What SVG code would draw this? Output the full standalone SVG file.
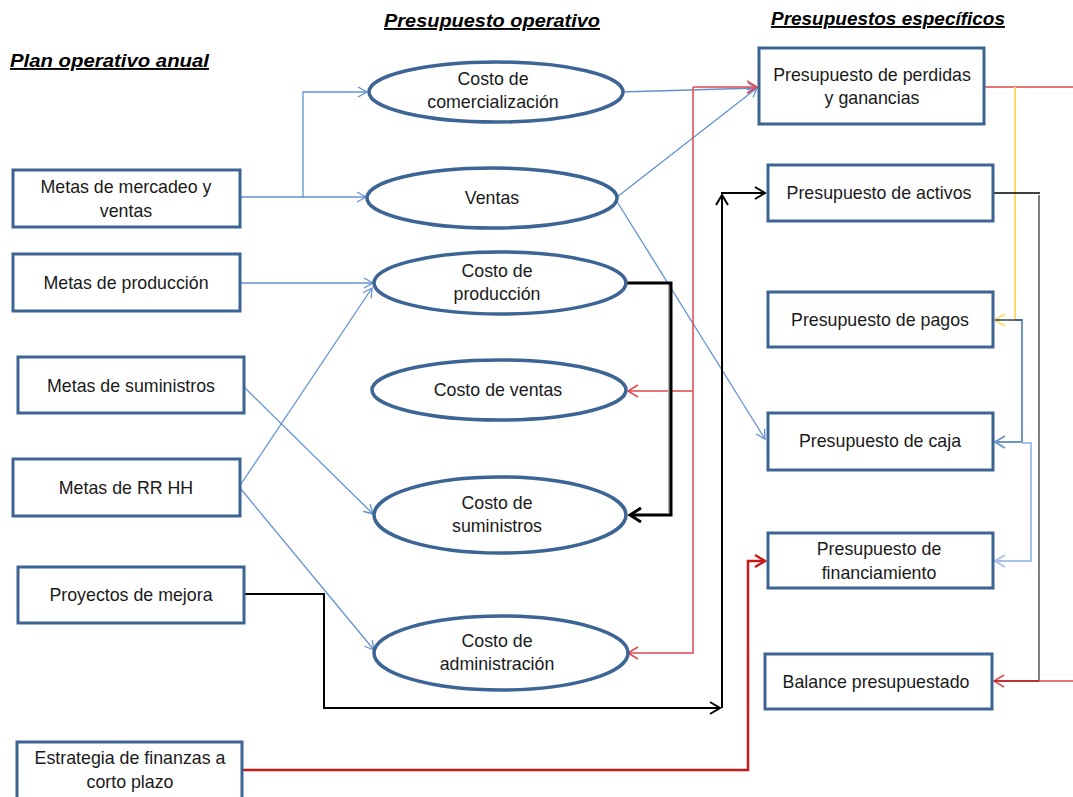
<svg xmlns="http://www.w3.org/2000/svg" width="1073" height="797" viewBox="0 0 1073 797">
  <style>
    .box { fill: #ffffff; stroke: #3c6494; stroke-width: 3; }
    .ell { fill: #ffffff; stroke: #3c6494; stroke-width: 3.5; }
    .t { font-family: "Liberation Sans", Arial, sans-serif; font-size: 17.8px; fill: #1a1a1a; text-anchor: middle; }
    .h { font-family: "Liberation Sans", Arial, sans-serif; font-size: 19px; font-weight: bold; font-style: italic; fill: #000; text-decoration: underline; }
    .c { fill: none; stroke-linejoin: miter; }
    .blue { stroke: #6392d2; stroke-width: 1.3; }
    .red { stroke: #e2474c; stroke-width: 1.5; }
    .dred { stroke: #c81818; stroke-width: 2.5; }
    .blk { stroke: #000; stroke-width: 2; }
    .blk3 { stroke: #000; stroke-width: 3; }
    .yel { stroke: #ffd966; stroke-width: 2; }
    .gray { stroke: #808080; stroke-width: 2; }
    .mblue { stroke: #7096c6; stroke-width: 2; }
    .lblue { stroke: #a4c2e8; stroke-width: 2; }
  </style>
  <defs>
    <marker id="aBlue" markerUnits="userSpaceOnUse" markerWidth="20" markerHeight="20" refX="0" refY="0" orient="auto" overflow="visible">
      <path d="M-9,-5 L0,0 L-9,5" fill="none" stroke="#6392d2" stroke-width="1.3"/>
    </marker>
    <marker id="aRed" markerUnits="userSpaceOnUse" markerWidth="20" markerHeight="20" refX="0" refY="0" orient="auto" overflow="visible">
      <path d="M-10,-6 L0,0 L-10,6" fill="none" stroke="#e2474c" stroke-width="1.5"/>
    </marker>
    <marker id="aDRed" markerUnits="userSpaceOnUse" markerWidth="20" markerHeight="20" refX="0" refY="0" orient="auto" overflow="visible">
      <path d="M-10,-6 L0,0 L-10,6" fill="none" stroke="#c81818" stroke-width="2.5"/>
    </marker>
    <marker id="aBlk" markerUnits="userSpaceOnUse" markerWidth="20" markerHeight="20" refX="0" refY="0" orient="auto" overflow="visible">
      <path d="M-10,-6 L0,0 L-10,6" fill="none" stroke="#000" stroke-width="2"/>
    </marker>
    <marker id="aBlk3" markerUnits="userSpaceOnUse" markerWidth="20" markerHeight="20" refX="0" refY="0" orient="auto" overflow="visible">
      <path d="M-11,-7 L0,0 L-11,7" fill="none" stroke="#000" stroke-width="3"/>
    </marker>
    <marker id="aYel" markerUnits="userSpaceOnUse" markerWidth="20" markerHeight="20" refX="0" refY="0" orient="auto" overflow="visible">
      <path d="M-10,-6 L0,0 L-10,6" fill="none" stroke="#ffd966" stroke-width="2"/>
    </marker>
    <marker id="aMBlue" markerUnits="userSpaceOnUse" markerWidth="20" markerHeight="20" refX="0" refY="0" orient="auto" overflow="visible">
      <path d="M-10,-6 L0,0 L-10,6" fill="none" stroke="#7096c6" stroke-width="2"/>
    </marker>
    <marker id="aLBlue" markerUnits="userSpaceOnUse" markerWidth="20" markerHeight="20" refX="0" refY="0" orient="auto" overflow="visible">
      <path d="M-10,-6 L0,0 L-10,6" fill="none" stroke="#a4c2e8" stroke-width="2"/>
    </marker>
  </defs>

  <rect width="1073" height="797" fill="#ffffff"/>

  <!-- section headings -->
  <g id="headings">
    <text class="h" x="10" y="67" textLength="199" lengthAdjust="spacingAndGlyphs">Plan operativo anual</text>
    <text class="h" x="384" y="27" textLength="216" lengthAdjust="spacingAndGlyphs">Presupuesto operativo</text>
    <text class="h" x="771" y="25" textLength="234" lengthAdjust="spacingAndGlyphs">Presupuestos específicos</text>
  </g>

  <!-- connectors -->
  <g id="connectors">
    <!-- annual plan goals to operating costs -->
    <path class="c blue" d="M240,197 H303 V92 H367" marker-end="url(#aBlue)"/>
    <path class="c blue" d="M303,197 H366" marker-end="url(#aBlue)"/>
    <path class="c blue" d="M240,283 H373" marker-end="url(#aBlue)"/>
    <path class="c blue" d="M244,387 L373,514" marker-end="url(#aBlue)"/>
    <path class="c blue" d="M239,487 L372,288" marker-end="url(#aBlue)"/>
    <path class="c blue" d="M240,488 L374,650" marker-end="url(#aBlue)"/>
    <!-- operating costs to specific budgets -->
    <path class="c blue" d="M621,92 L757,88" marker-end="url(#aBlue)"/>
    <path class="c blue" d="M617,197 L757,88" marker-end="url(#aBlue)"/>
    <path class="c blue" d="M616,200 L765,439" marker-end="url(#aBlue)"/>
    <!-- profit and loss feedback -->
    <path class="c red" d="M693,87 H757" marker-end="url(#aRed)"/>
    <path class="c red" d="M693,87 V653 H628" marker-end="url(#aRed)"/>
    <path class="c red" d="M693,391 H628" marker-end="url(#aRed)"/>
    <!-- production cost to supplies cost -->
    <path d="M669,286 V513" stroke="#b0b0b0" stroke-width="2" fill="none"/>
    <path class="c blk3" d="M626,283 H671 V515 H630" marker-end="url(#aBlk3)"/>
    <!-- improvement projects to assets budget -->
    <path class="c blk" d="M244,594 H324 V708 H720" marker-end="url(#aBlk)"/>
    <path class="c blk" d="M722,708 V195" marker-end="url(#aBlk)"/>
    <path class="c blk" d="M721,193 H765" marker-end="url(#aBlk)"/>
    <!-- short-term finance strategy to financing budget -->
    <path class="c dred" d="M242,770 H748 V561 H765" marker-end="url(#aDRed)"/>
    <!-- right-hand links between specific budgets -->
    <path class="c red" d="M985,87 H1073"/>
    <path class="c yel" d="M1015,87 V320 H995" marker-end="url(#aYel)"/>
    <path class="c mblue" d="M1015,320 H1022 V442 H995" marker-end="url(#aMBlue)"/>
    <path d="M995,320 H1022" stroke="#2f4f7a" stroke-width="1.5" fill="none"/>
    <path class="c lblue" d="M1022,443 H1031 V561 H995" marker-end="url(#aLBlue)"/>
    <path class="c gray" d="M1039,195 V681"/>
    <path d="M993,193 H1040" stroke="#000" stroke-width="1.5" fill="none"/>
    <path class="c red" d="M1073,681 H994" marker-end="url(#aRed)"/>
    <path d="M1039,681 H994" stroke="#b02020" stroke-width="1.5" fill="none"/>
  </g>

  <!-- annual plan goals -->
  <g id="metas-mercadeo">
    <rect class="box" x="13" y="170" width="227" height="57"/>
    <text class="t" x="126" y="193">Metas de mercadeo y</text>
    <text class="t" x="126" y="217">ventas</text>
  </g>
  <g id="metas-produccion">
    <rect class="box" x="13" y="254" width="227" height="57"/>
    <text class="t" x="126" y="289">Metas de producción</text>
  </g>
  <g id="metas-suministros">
    <rect class="box" x="18" y="357" width="226" height="56"/>
    <text class="t" x="131" y="392">Metas de suministros</text>
  </g>
  <g id="metas-rrhh">
    <rect class="box" x="13" y="459" width="227" height="57"/>
    <text class="t" x="126" y="494">Metas de RR HH</text>
  </g>
  <g id="proyectos-mejora">
    <rect class="box" x="18" y="567" width="226" height="56"/>
    <text class="t" x="131" y="601">Proyectos de mejora</text>
  </g>
  <g id="estrategia-finanzas">
    <rect class="box" x="17" y="742" width="225" height="60"/>
    <text class="t" x="130" y="764">Estrategia de finanzas a</text>
    <text class="t" x="130" y="788">corto plazo</text>
  </g>

  <!-- operating budget -->
  <g id="costo-comercializacion">
    <ellipse class="ell" cx="496" cy="92" rx="127" ry="30"/>
    <text class="t" x="493" y="85">Costo de</text>
    <text class="t" x="493" y="108">comercialización</text>
  </g>
  <g id="ventas">
    <ellipse class="ell" cx="492" cy="198" rx="125" ry="30"/>
    <text class="t" x="492" y="204">Ventas</text>
  </g>
  <g id="costo-produccion">
    <ellipse class="ell" cx="500" cy="283" rx="126" ry="31"/>
    <text class="t" x="497" y="277">Costo de</text>
    <text class="t" x="497" y="300">producción</text>
  </g>
  <g id="costo-ventas">
    <ellipse class="ell" cx="499" cy="390" rx="127" ry="30"/>
    <text class="t" x="498" y="396">Costo de ventas</text>
  </g>
  <g id="costo-suministros">
    <ellipse class="ell" cx="500" cy="515" rx="126" ry="38"/>
    <text class="t" x="497" y="509">Costo de</text>
    <text class="t" x="497" y="532">suministros</text>
  </g>
  <g id="costo-administracion">
    <ellipse class="ell" cx="501" cy="653" rx="127" ry="37"/>
    <text class="t" x="497" y="647">Costo de</text>
    <text class="t" x="497" y="670">administración</text>
  </g>

  <!-- specific budgets -->
  <g id="presupuesto-pyg">
    <rect class="box" x="759" y="48" width="225" height="76"/>
    <text class="t" x="872" y="81">Presupuesto de perdidas</text>
    <text class="t" x="872" y="104">y ganancias</text>
  </g>
  <g id="presupuesto-activos">
    <rect class="box" x="768" y="165" width="225" height="56"/>
    <text class="t" x="879" y="199">Presupuesto de activos</text>
  </g>
  <g id="presupuesto-pagos">
    <rect class="box" x="768" y="292" width="225" height="55"/>
    <text class="t" x="880" y="326">Presupuesto de pagos</text>
  </g>
  <g id="presupuesto-caja">
    <rect class="box" x="768" y="413" width="225" height="57"/>
    <text class="t" x="880" y="447">Presupuesto de caja</text>
  </g>
  <g id="presupuesto-financiamiento">
    <rect class="box" x="768" y="533" width="225" height="55"/>
    <text class="t" x="879" y="555">Presupuesto de</text>
    <text class="t" x="879" y="579">financiamiento</text>
  </g>
  <g id="balance-presupuestado">
    <rect class="box" x="765" y="654" width="227" height="55"/>
    <text class="t" x="876" y="688">Balance presupuestado</text>
  </g>
</svg>
